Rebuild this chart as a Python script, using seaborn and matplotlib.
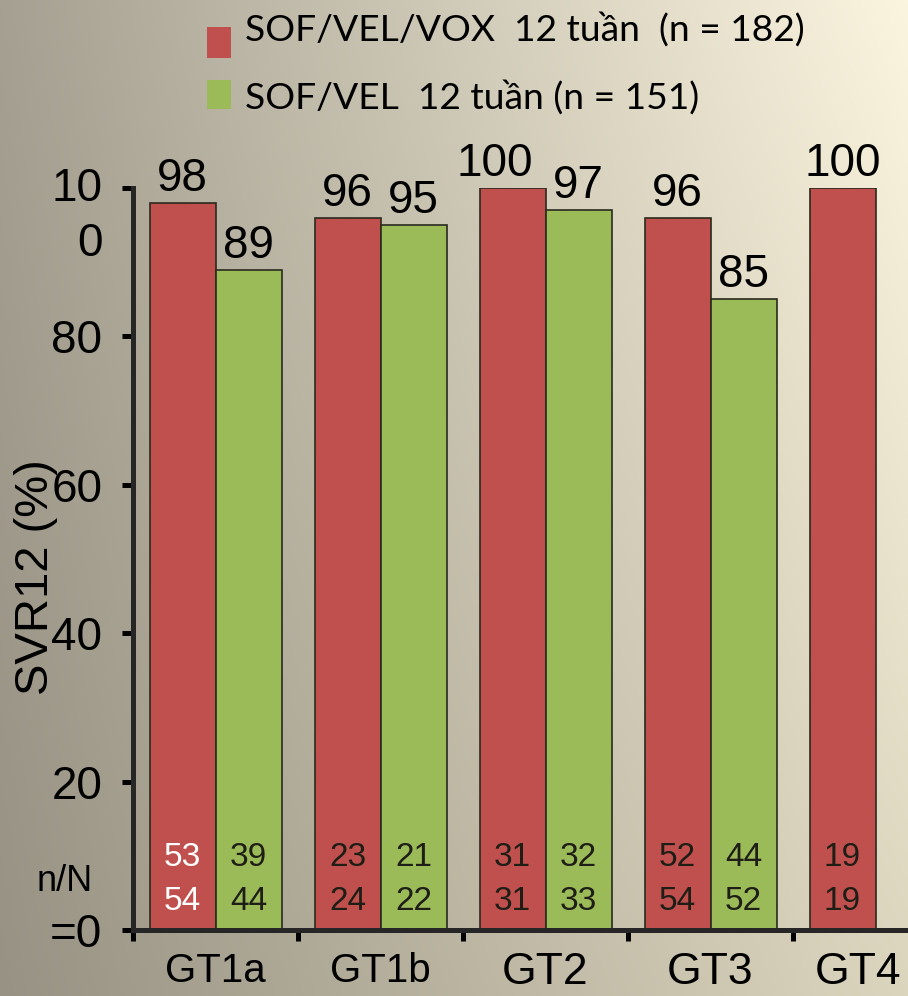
import numpy as np
import pandas as pd
import matplotlib
matplotlib.use("Agg")
import matplotlib.pyplot as plt
from matplotlib.patches import Rectangle
from matplotlib.transforms import ScaledTranslation
import seaborn as sns

# ---- data -------------------------------------------------------------
genotypes = ["GT1a", "GT1b", "GT2", "GT3", "GT4"]
regimens = ["SOF/VEL/VOX  12 tuần  (n = 182)", "SOF/VEL  12 tuần (n = 151)"]

svr_vox = [98, 96, 100, 96, 100]
n_vox = [53, 23, 31, 52, 19]
N_vox = [54, 24, 31, 54, 19]

svr_vel = [89, 95, 97, 85]          # no GT4 arm
n_vel = [39, 21, 32, 44]
N_vel = [44, 22, 33, 52]

y_ticks = [0, 20, 40, 60, 80, 100]
y_ticklabels = ["=0", "20", "40", "60", "80", "10\n0"]

colors = ["#C0504D", "#9BBB59"]

rows = []
for g, v, n, N in zip(genotypes, svr_vox, n_vox, N_vox):
    rows.append(dict(genotype=g, regimen=regimens[0], svr=v, n=n, N=N))
for g, v, n, N in zip(genotypes, svr_vel, n_vel, N_vel):
    rows.append(dict(genotype=g, regimen=regimens[1], svr=v, n=n, N=N))
df = pd.DataFrame(rows)

# ---- style --------------------------------------------------------------
sns.set_theme(style="ticks")
plt.rcParams["font.family"] = ["Liberation Sans", "DejaVu Sans"]
plt.rcParams["axes.linewidth"] = 3.6

W, H = 908, 996
fig = plt.figure(figsize=(W / 100, H / 100), dpi=100)


def px(dx, dy):
    """Offset in pixels (y up) as a transform."""
    return ScaledTranslation(dx / 100, dy / 100, fig.dpi_scale_trans)


# gradient backdrop: grey-brown at the left, cream toward the upper right
bg = fig.add_axes([0, 0, 1, 1], zorder=-10)
tl = np.array([0xA5, 0xA0, 0x91]) / 255
tr = np.array([0xFB, 0xF5, 0xE0]) / 255
bl = np.array([0x97, 0x92, 0x83]) / 255
br = np.array([0xDC, 0xD5, 0xBE]) / 255
xs = np.linspace(0, 1, 300)[None, :, None]
ys = np.linspace(0, 1, 300)[:, None, None]
grad = (1 - ys) * ((1 - xs) * tl + xs * tr) + ys * ((1 - xs) * bl + xs * br)
bg.imshow(grad, aspect="auto", extent=(0, 1, 0, 1), origin="upper")
bg.axis("off")

ax = fig.add_axes([133 / W, 66 / H, 825 / W, 742 / H])
ax.set_facecolor("none")

sns.barplot(data=df, x="genotype", y="svr", hue="regimen", order=genotypes,
            hue_order=regimens, palette=colors, width=0.8, saturation=1,
            edgecolor="#2a2a1e", linewidth=1.2, ax=ax, legend=False)

ax.set_xlim(-0.5, 4.5)
ax.set_ylim(0, 100)
sns.despine(ax=ax)

# value labels above bars
for ci, cont in enumerate(ax.containers):
    texts = ax.bar_label(cont, fmt="{:.0f}", padding=1.5, fontsize=33,
                         color="black", clip_on=False)
    if ci == 0:
        # GT2 label nudged left so it clears the neighbouring "97"
        t = texts[genotypes.index("GT2")]
        ox, oy = t.xyann
        t.xyann = (ox - 13, oy)

# n / N counts inside the bars
for cont, level in zip(ax.containers, regimens):
    sub = df[df["regimen"] == level]
    for bar, (_, r) in zip(cont, sub.iterrows()):
        cx = bar.get_x() + bar.get_width() / 2
        col = "white" if (r["genotype"] == "GT1a" and level == regimens[0]) else "#1e1e16"
        ax.text(cx, 9.8, f"{r['n']}", ha="center", va="center", fontsize=24, color=col)
        ax.text(cx, 3.9, f"{r['N']}", ha="center", va="center", fontsize=24, color=col)

# axes ticks
ax.set_yticks(y_ticks)
ax.set_yticklabels(y_ticklabels, fontsize=33, linespacing=1.33)
ax.tick_params(axis="y", length=8, width=3.6, pad=14, colors="black", direction="out")
top_lbl = ax.get_yticklabels()[-1]
top_lbl.set_verticalalignment("top")
top_lbl.set_transform(top_lbl.get_transform() + px(0, 21))

ax.set_xticks(range(len(genotypes)))
ax.set_xticklabels(genotypes)
ax.set_xticks(np.arange(-0.5, len(genotypes)), minor=True)
ax.tick_params(axis="x", which="major", length=0, pad=16, colors="black")
ax.tick_params(axis="x", which="minor", length=8, width=3.6, direction="out", colors="black")
for lbl in ax.get_xticklabels():
    lbl.set_fontsize(29 if lbl.get_text().startswith("GT1") else 32)
    if lbl.get_text() == "GT4":
        lbl.set_transform(lbl.get_transform() + px(-18, 0))

ax.set_xlabel("")
ax.set_ylabel("SVR12 (%)", fontsize=34, va="center", color="black")
ax.yaxis.set_label_coords((36 - 133) / 825, (930 - 577) / 742)

fig.text(65 / W, 1 - 881 / H, "n/N", ha="center", va="center", fontsize=26, color="black")

# legend: coloured squares with their regimen labels
legend_font = ["Lato", "Noto Sans", "DejaVu Sans"]
for (y_top, y_bot, base), c, lab in zip([(27, 58, 41), (80, 109, 109)], colors, regimens):
    fig.add_artist(Rectangle((207 / W, 1 - y_bot / H), 24 / W, (y_bot - y_top) / H,
                             transform=fig.transFigure, facecolor=c, edgecolor="none"))
    fig.text(245 / W, 1 - base / H, lab, ha="left", va="baseline", fontsize=26.8,
             family=legend_font, color="black")

fig.savefig("out.png", dpi=100)
